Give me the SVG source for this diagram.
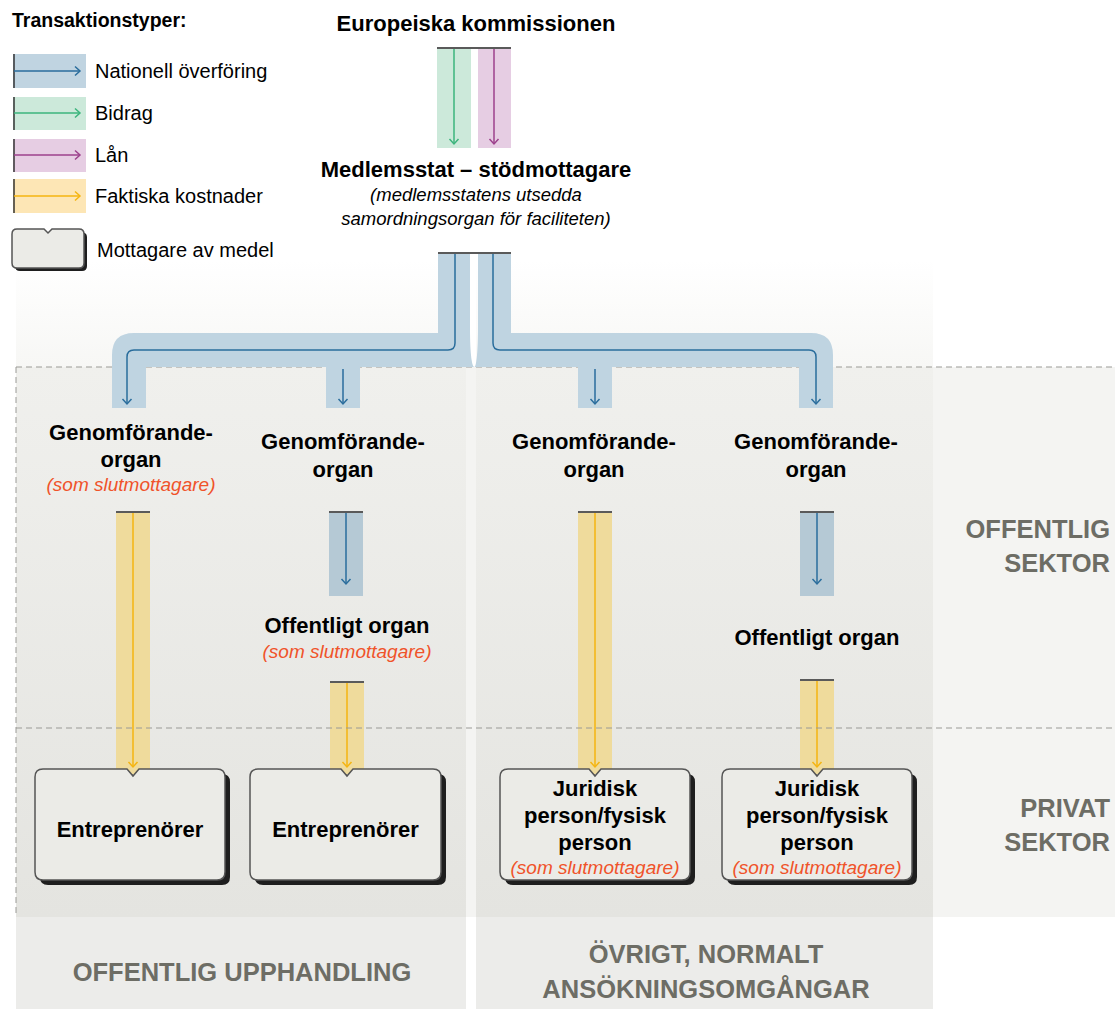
<svg xmlns="http://www.w3.org/2000/svg" width="1115" height="1009" viewBox="0 0 1115 1009">
<defs>
<linearGradient id="colTop" x1="0" y1="0" x2="0" y2="1">
<stop offset="0" stop-color="#ffffff"/>
<stop offset="1" stop-color="#f7f7f5"/>
</linearGradient>
<linearGradient id="colMid" x1="0" y1="0" x2="0" y2="1">
<stop offset="0" stop-color="#f0f0ed"/>
<stop offset="1" stop-color="#e4e4e0"/>
</linearGradient>
<marker id="ahBlue" viewBox="0 0 12 12" refX="10" refY="6" markerWidth="12" markerHeight="12" markerUnits="userSpaceOnUse" orient="auto"><path d="M5 1.5 L10 6 L5 10.5" fill="none" stroke="#2a6d9c" stroke-width="1.5"/></marker>
<marker id="ahGreen" viewBox="0 0 12 12" refX="10" refY="6" markerWidth="12" markerHeight="12" markerUnits="userSpaceOnUse" orient="auto"><path d="M5 1.5 L10 6 L5 10.5" fill="none" stroke="#3cb47c" stroke-width="1.5"/></marker>
<marker id="ahPurple" viewBox="0 0 12 12" refX="10" refY="6" markerWidth="12" markerHeight="12" markerUnits="userSpaceOnUse" orient="auto"><path d="M5 1.5 L10 6 L5 10.5" fill="none" stroke="#9c408c" stroke-width="1.5"/></marker>
<marker id="ahYellow" viewBox="0 0 12 12" refX="10" refY="6" markerWidth="12" markerHeight="12" markerUnits="userSpaceOnUse" orient="auto"><path d="M5 1.5 L10 6 L5 10.5" fill="none" stroke="#f5b511" stroke-width="1.5"/></marker>
</defs>
<style>
text { font-family: "Liberation Sans", Arial, sans-serif; fill: #000; }
.b { font-weight: bold; }
.t { font-size: 22px; font-weight: bold; text-anchor: middle; }
.it { font-style: italic; font-size: 18.5px; text-anchor: middle; }
.red { font-style: italic; font-size: 19px; text-anchor: middle; fill: #f0532a; }
.lg { font-size: 20px; }
.sec { font-size: 25.5px; font-weight: bold; fill: #6d6d65; }
.dash { stroke: #9a9a96; stroke-width: 1; stroke-dasharray: 6 4; fill: none; }
.topline { stroke: #5a5a5a; stroke-width: 2; fill: none; }
.lb { stroke: #2a6d9c; stroke-width: 1.5; fill: none; marker-end: url(#ahBlue); }
.lgr { stroke: #3cb47c; stroke-width: 1.5; fill: none; marker-end: url(#ahGreen); }
.lp { stroke: #9c408c; stroke-width: 1.5; fill: none; marker-end: url(#ahPurple); }
.ly { stroke: #f5b511; stroke-width: 1.5; fill: none; marker-end: url(#ahYellow); }
.barB { fill: #bfd4e1; }
.barB2 { fill: #b5c9d5; }
.barY { fill: #efdb9c; }
.box { fill: #ebebe7; stroke: #555; stroke-width: 1.5; }
.shadow { fill: #1e1e1e; }
</style>

<g id="background">
<rect x="16" y="260" width="450" height="107" fill="url(#colTop)"/>
<rect x="476" y="260" width="457" height="107" fill="url(#colTop)"/>
<rect x="16" y="367" width="1099" height="550" fill="#f4f4f2"/>
<rect x="16" y="367" width="450" height="550" fill="url(#colMid)"/>
<rect x="476" y="367" width="457" height="550" fill="url(#colMid)"/>
<rect x="16" y="917" width="450" height="92" fill="#ececea"/>
<rect x="476" y="917" width="457" height="92" fill="#ececea"/>
<path class="dash" d="M16 367 H1115 M16 367 V917"/>
</g>

<g id="legend">
<text class="b" x="12" y="27" font-size="19.5">Transaktionstyper:</text>
<rect x="13" y="54" width="73" height="34" fill="#c0d4e1"/>
<path d="M14 54 V88" stroke="#333" stroke-width="1.5"/>
<path class="lb" d="M14 71 H80"/>
<text class="lg" x="95" y="78">Nationell överföring</text>
<rect x="13" y="97" width="73" height="33" fill="#cce9da"/>
<path d="M14 97 V130" stroke="#333" stroke-width="1.5"/>
<path class="lgr" d="M14 113 H80"/>
<text class="lg" x="95" y="120">Bidrag</text>
<rect x="13" y="139" width="73" height="33" fill="#e6cde3"/>
<path d="M14 139 V172" stroke="#333" stroke-width="1.5"/>
<path class="lp" d="M14 155 H80"/>
<text class="lg" x="95" y="162">Lån</text>
<rect x="13" y="179" width="73" height="34" fill="#fde6b5"/>
<path d="M14 179 V213" stroke="#333" stroke-width="1.5"/>
<path class="ly" d="M14 196 H80"/>
<text class="lg" x="95" y="203">Faktiska kostnader</text>
<path class="shadow" d="M18 232 L44 232 L48 236 L52 232 L80 232 Q87 232 87 237 L87 266 Q87 271 82 271 L20 271 Q15 271 15 266 L15 237 Q15 232 18 232 Z"/>
<path class="box" d="M17 229 L44 229 L48 233 L52 229 L79 229 Q84 229 84 234 L84 263 Q84 268 79 268 L17 268 Q12 268 12 263 L12 234 Q12 229 17 229 Z"/>
<text class="lg" x="97" y="257">Mottagare av medel</text>
</g>

<g id="connectors">
<rect x="437" y="48" width="34" height="100" fill="#cce9da"/>
<rect x="478" y="48" width="33" height="100" fill="#e6cde3"/>
<path class="topline" d="M437 48 H511"/>
<path class="lgr" d="M454 49 V144"/>
<path class="lp" d="M494 49 V144"/>

<path class="barB" d="M438 253 H470 V328 C470 355 472 367 474.5 367 H146 V408 H112 V355 Q112 333 134 333 H438 Z"/>
<path class="barB" d="M511 253 H478 V328 C478 355 476 367 474.5 367 H799 V408 H833 V355 Q833 333 811 333 H511 Z"/>
<rect class="barB" x="326" y="366" width="34" height="42"/>
<rect class="barB" x="578" y="366" width="34" height="42"/>
<path class="topline" d="M438 253 H511"/>
<path class="lb" d="M455 254 V343 Q455 350 448 350 H134 Q127 350 127 357 V404"/>
<path class="lb" d="M493 254 V343 Q493 350 500 350 H809 Q816 350 816 357 V404"/>
<path class="lb" d="M343 369 V404"/>
<path class="lb" d="M595 369 V404"/>

<rect class="barY" x="116" y="512" width="34" height="262"/>
<path class="topline" d="M116 512 H150"/>
<path class="ly" d="M133 513 V767"/>

<rect class="barB2" x="329" y="512" width="34" height="84"/>
<path class="topline" d="M329 512 H363"/>
<path class="lb" d="M346 513 V584"/>

<rect class="barY" x="330" y="682" width="34" height="92"/>
<path class="topline" d="M330 682 H364"/>
<path class="ly" d="M347 683 V767"/>

<rect class="barY" x="578" y="512" width="34" height="262"/>
<path class="topline" d="M578 512 H612"/>
<path class="ly" d="M595 513 V767"/>

<rect class="barB2" x="800" y="512" width="34" height="84"/>
<path class="topline" d="M800 512 H834"/>
<path class="lb" d="M817 513 V584"/>

<rect class="barY" x="800" y="680" width="34" height="94"/>
<path class="topline" d="M800 680 H834"/>
<path class="ly" d="M817 681 V767"/>
<path class="dash" d="M16 728 H1115"/>
</g>

<g id="ec">
<text class="t" x="476" y="31" font-size="21.5">Europeiska kommissionen</text>
</g>

<g id="ms">
<text class="t" x="476" y="177">Medlemsstat – stödmottagare</text>
<text class="it" x="476" y="201">(medlemsstatens utsedda</text>
<text class="it" x="476" y="225">samordningsorgan för faciliteten)</text>
</g>

<g id="go1">
<text class="t" x="131" y="440">Genomförande-</text>
<text class="t" x="131" y="467">organ</text>
<text class="red" x="131" y="491">(som slutmottagare)</text>
</g>
<g id="go2">
<text class="t" x="343" y="449">Genomförande-</text>
<text class="t" x="343" y="477">organ</text>
</g>
<g id="go3">
<text class="t" x="594" y="449">Genomförande-</text>
<text class="t" x="594" y="477">organ</text>
</g>
<g id="go4">
<text class="t" x="816" y="449">Genomförande-</text>
<text class="t" x="816" y="477">organ</text>
</g>

<g id="oo2">
<text class="t" x="347" y="633">Offentligt organ</text>
<text class="red" x="347" y="658">(som slutmottagare)</text>
</g>
<g id="oo4">
<text class="t" x="817" y="645">Offentligt organ</text>
</g>

<g id="box1">
<path class="shadow" d="M48 774 L132 774 L138 781 L144 774 L222 774 Q230 774 230 782 L230 877 Q230 885 222 885 L48 885 Q40 885 40 877 L40 782 Q40 774 48 774 Z"/>
<path class="box" d="M43 769 L127 769 L133 776 L139 769 L217 769 Q225 769 225 777 L225 872 Q225 880 217 880 L43 880 Q35 880 35 872 L35 777 Q35 769 43 769 Z"/>
<text class="t" x="130" y="837">Entreprenörer</text>
</g>
<g id="box2">
<path class="shadow" d="M263 774 L346 774 L352 781 L358 774 L438 774 Q446 774 446 782 L446 877 Q446 885 438 885 L263 885 Q255 885 255 877 L255 782 Q255 774 263 774 Z"/>
<path class="box" d="M258 769 L341 769 L347 776 L353 769 L433 769 Q441 769 441 777 L441 872 Q441 880 433 880 L258 880 Q250 880 250 872 L250 777 Q250 769 258 769 Z"/>
<text class="t" x="345.5" y="837">Entreprenörer</text>
</g>
<g id="box3">
<path class="shadow" d="M513 774 L594 774 L600 781 L606 774 L687 774 Q695 774 695 782 L695 877 Q695 885 687 885 L513 885 Q505 885 505 877 L505 782 Q505 774 513 774 Z"/>
<path class="box" d="M508 769 L589 769 L595 776 L601 769 L682 769 Q690 769 690 777 L690 872 Q690 880 682 880 L508 880 Q500 880 500 872 L500 777 Q500 769 508 769 Z"/>
<text class="t" x="595" y="796" font-size="21.5">Juridisk</text>
<text class="t" x="595" y="823" font-size="21.5">person/fysisk</text>
<text class="t" x="595" y="850" font-size="21.5">person</text>
<text class="red" x="595" y="874" font-size="18.5">(som slutmottagare)</text>
</g>
<g id="box4">
<path class="shadow" d="M735 774 L816 774 L822 781 L828 774 L909 774 Q917 774 917 782 L917 877 Q917 885 909 885 L735 885 Q727 885 727 877 L727 782 Q727 774 735 774 Z"/>
<path class="box" d="M730 769 L811 769 L817 776 L823 769 L904 769 Q912 769 912 777 L912 872 Q912 880 904 880 L730 880 Q722 880 722 872 L722 777 Q722 769 730 769 Z"/>
<text class="t" x="817" y="796" font-size="21.5">Juridisk</text>
<text class="t" x="817" y="823" font-size="21.5">person/fysisk</text>
<text class="t" x="817" y="850" font-size="21.5">person</text>
<text class="red" x="817" y="874" font-size="18.5">(som slutmottagare)</text>
</g>

<g id="sector-labels">
<text class="sec" x="1110" y="538" text-anchor="end">OFFENTLIG</text>
<text class="sec" x="1110" y="572" text-anchor="end">SEKTOR</text>
<text class="sec" x="1110" y="817" text-anchor="end">PRIVAT</text>
<text class="sec" x="1110" y="851" text-anchor="end">SEKTOR</text>
<text class="sec" x="242" y="981" text-anchor="middle">OFFENTLIG UPPHANDLING</text>
<text class="sec" x="706" y="963" text-anchor="middle">ÖVRIGT, NORMALT</text>
<text class="sec" x="706" y="998" text-anchor="middle">ANSÖKNINGSOMGÅNGAR</text>
</g>
</svg>
